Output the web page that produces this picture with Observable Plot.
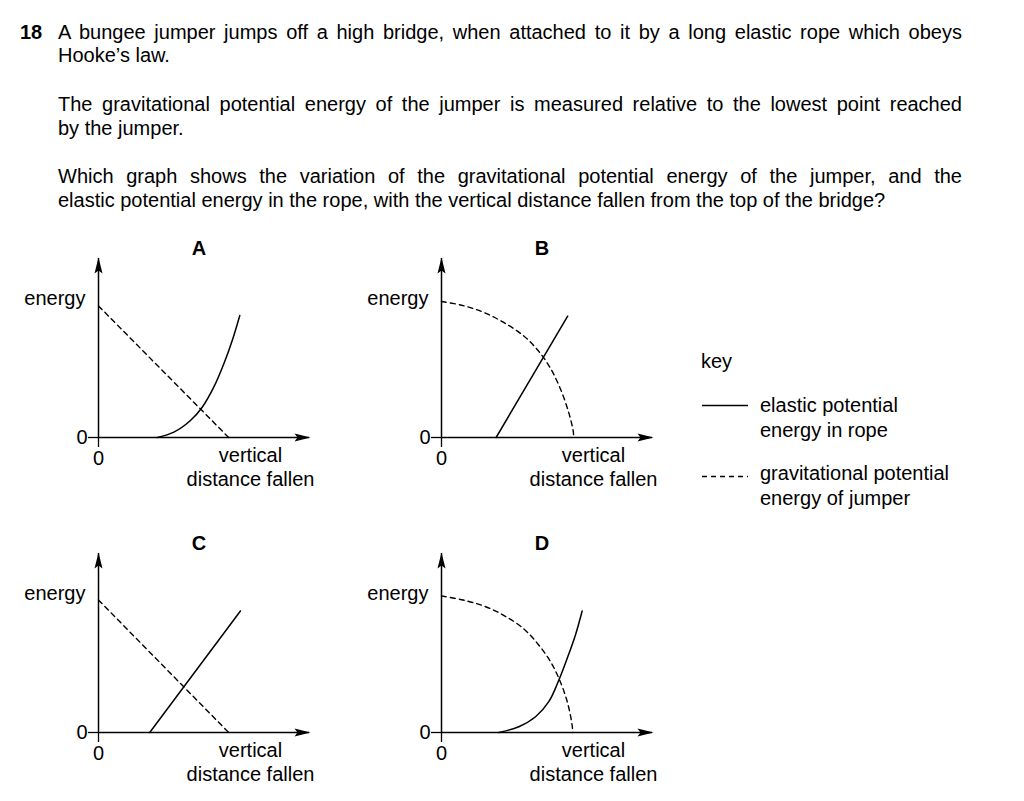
<!DOCTYPE html>
<html>
<head>
<meta charset="utf-8">
<script src="https://cdn.jsdelivr.net/npm/d3@7"></script>
<script src="https://cdn.jsdelivr.net/npm/@observablehq/plot@0.6"></script>
<style>
  html, body { margin: 0; padding: 0; background: #fff; }
  body { width: 1024px; height: 801px; position: relative; overflow: hidden;
         font-family: "Liberation Sans", Arial, Helvetica, sans-serif; color: #000; }
  .line { position: absolute; left: 58px; width: 904px; font-size: 20px; line-height: 23.3px; white-space: nowrap; }
  .just { text-align: justify; text-align-last: justify; }
  .qnum { position: absolute; left: 20px; font-size: 20px; line-height: 23.3px; font-weight: bold; }
  .panel { position: absolute; width: 330px; }
  .keytext { position: absolute; font-size: 20px; line-height: 25px; white-space: nowrap; }
</style>
</head>
<body>
<script>
// ---------- text ----------
const questionNumber = "18";
const questionLines = [
  "A bungee jumper jumps off a high bridge, when attached to it by a long elastic rope which obeys",
  "Hooke’s law.",
  "The gravitational potential energy of the jumper is measured relative to the lowest point reached",
  "by the jumper.",
  "Which graph shows the variation of the gravitational potential energy of the jumper, and the",
  "elastic potential energy in the rope, with the vertical distance fallen from the top of the bridge?"
];
const yAxisLabel = "energy";
const xAxisLabel = "vertical\ndistance fallen";
const zeroTick = [0];
const panelLetters = ["A", "B", "C", "D"];
const keyTitle = "key";
const keyLabels = ["elastic potential\nenergy in rope", "gravitational potential\nenergy of jumper"];

// ---------- data (distance fallen, energy) ----------
// A
const elasticDistA   = [2.80, 3.59, 4.38, 4.94, 5.49, 5.97, 6.37, 6.73];
const elasticEnergyA = [0.00, 0.30, 0.95, 1.69, 2.81, 4.12, 5.42, 6.82];
const gravDistA      = [0.00, 6.20];
const gravEnergyA    = [7.35, 0.00];
// B
const elasticDistB   = [2.60, 6.01];
const elasticEnergyB = [0.00, 6.78];
const gravDistB      = [0.00, 1.03, 1.99, 2.94, 3.89, 4.60, 5.16, 5.63, 6.03, 6.27, 6.30];
const gravEnergyB    = [7.60, 7.37, 7.00, 6.44, 5.70, 4.86, 3.93, 2.81, 1.51, 0.39, 0.00];
// C
const elasticDistC   = [2.44, 6.76];
const elasticEnergyC = [0.00, 6.79];
const gravDistC      = [0.00, 6.20];
const gravEnergyC    = [7.40, 0.00];
// D
const elasticDistD   = [2.73, 3.68, 4.48, 5.11, 5.59, 5.99, 6.38, 6.70];
const elasticEnergyD = [0.00, 0.32, 0.88, 1.72, 2.93, 4.15, 5.45, 6.79];
const gravDistD      = [0.00, 1.03, 1.99, 2.94, 3.89, 4.63, 5.19, 5.59, 5.99, 6.22, 6.25];
const gravEnergyD    = [7.63, 7.40, 7.08, 6.56, 5.82, 4.89, 3.96, 3.03, 1.72, 0.42, 0.00];

const xDomain = [0, 10.05];
const yDomain = [0, 10];

// ---------- layout ----------
const FONT = '"Liberation Sans", Arial, Helvetica, sans-serif';
const lineTops = [21, 44.4, 93.4, 117, 165.4, 189];
const justified = [true, false, true, false, true, false];

questionLines.forEach((t, i) => {
  const div = document.createElement("div");
  div.className = "line" + (justified[i] ? " just" : "");
  div.style.top = lineTops[i] + "px";
  div.textContent = t;
  document.body.appendChild(div);
});
const qn = document.createElement("div");
qn.className = "qnum";
qn.style.top = lineTops[0] + "px";
qn.textContent = questionNumber;
document.body.appendChild(qn);

// arrowhead symbols (filled, narrow, slightly notched)
const arrowRight = { draw(ctx) { ctx.moveTo(1, 0); ctx.lineTo(-15, -4); ctx.lineTo(-12, 0); ctx.lineTo(-15, 4); ctx.closePath(); } };
const arrowUp    = { draw(ctx) { ctx.moveTo(0, -1); ctx.lineTo(-4, 15); ctx.lineTo(0, 12); ctx.lineTo(4, 15); ctx.closePath(); } };

function toRows(xs, ys) { return xs.map((d, i) => ({ dist: d, energy: ys[i] })); }

function panel(letter, eDist, eEnergy, gDist, gEnergy) {
  const elastic = toRows(eDist, eEnergy);
  const grav = toRows(gDist, gEnergy);
  return Plot.plot({
    width: 330, height: 270,
    marginLeft: 98, marginRight: 21, marginTop: 28, marginBottom: 63,
    x: { domain: xDomain, label: null },
    y: { domain: yDomain, label: null },
    style: { fontFamily: FONT, fontSize: "20px", color: "#000", background: "transparent", overflow: "visible" },
    marks: [
      Plot.ruleX([0], { stroke: "#000", strokeWidth: 1.5 }),
      Plot.ruleY([0], { stroke: "#000", strokeWidth: 1.5 }),
      Plot.axisX({ ticks: zeroTick, tickSize: 10, tickPadding: 3, label: null, strokeWidth: 1.3 }),
      Plot.axisY({ ticks: zeroTick, tickSize: 10, tickPadding: 1, label: null, strokeWidth: 1.3 }),
      Plot.dot([0], { frameAnchor: "top-left", symbol: arrowUp, fill: "#000", stroke: "none" }),
      Plot.dot([0], { frameAnchor: "bottom-right", symbol: arrowRight, fill: "#000", stroke: "none" }),
      Plot.line(grav, { x: "dist", y: "energy", stroke: "#000", strokeWidth: 1.4, strokeDasharray: "5,4", curve: "catmull-rom" }),
      Plot.line(elastic, { x: "dist", y: "energy", stroke: "#000", strokeWidth: 1.5, curve: "catmull-rom" }),
      Plot.text([letter], { text: d => d, frameAnchor: "top", textAnchor: "middle", lineAnchor: "middle", dx: -5, dy: -10, fontWeight: "bold" }),
      Plot.text([yAxisLabel], { text: d => d, frameAnchor: "top-left", textAnchor: "end", lineAnchor: "middle", dx: -13, dy: 40 }),
      Plot.text([xAxisLabel], { text: d => d, frameAnchor: "bottom-left", textAnchor: "middle", lineAnchor: "middle", dx: 152, dy: 29, lineHeight: 1.2 })
    ]
  });
}

const panelData = {
  A: [elasticDistA, elasticEnergyA, gravDistA, gravEnergyA],
  B: [elasticDistB, elasticEnergyB, gravDistB, gravEnergyB],
  C: [elasticDistC, elasticEnergyC, gravDistC, gravEnergyC],
  D: [elasticDistD, elasticEnergyD, gravDistD, gravEnergyD]
};
const panelPos = { A: [0, 230], B: [343, 230], C: [0, 525], D: [343, 525] };

panelLetters.forEach(L => {
  const wrap = document.createElement("div");
  wrap.className = "panel";
  wrap.style.left = panelPos[L][0] + "px";
  wrap.style.top = panelPos[L][1] + "px";
  wrap.appendChild(panel(L, ...panelData[L]));
  document.body.appendChild(wrap);
});

// ---------- key ----------
const kt = document.createElement("div");
kt.className = "keytext";
kt.style.left = "701px"; kt.style.top = "349px";
kt.textContent = keyTitle;
document.body.appendChild(kt);

const keySvg = d3.select(document.body).append("svg")
  .attr("width", 60).attr("height", 120)
  .style("position", "absolute").style("left", "695px").style("top", "380px");
keySvg.append("line").attr("x1", 7).attr("x2", 53).attr("y1", 25.5).attr("y2", 25.5)
  .attr("stroke", "#000").attr("stroke-width", 1.4);
keySvg.append("line").attr("x1", 7).attr("x2", 53).attr("y1", 96.5).attr("y2", 96.5)
  .attr("stroke", "#000").attr("stroke-width", 1.3).attr("stroke-dasharray", "5,4");

const keyTops = [393, 461];
keyLabels.forEach((t, i) => {
  const d = document.createElement("div");
  d.className = "keytext";
  d.style.left = "760px"; d.style.top = keyTops[i] + "px";
  d.innerHTML = t.split("\n").join("<br>");
  document.body.appendChild(d);
});
</script>
</body>
</html>
